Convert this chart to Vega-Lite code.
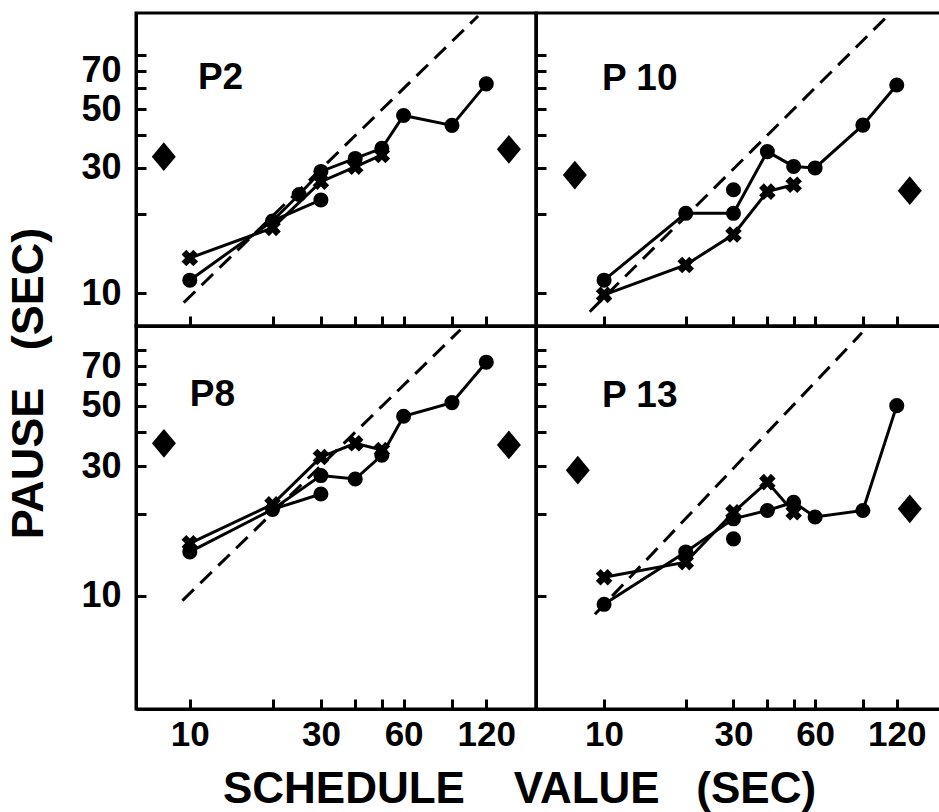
{
  "$schema": "https://vega.github.io/schema/vega-lite/v6.json",
  "background": "white",
  "padding": {"left": 4, "top": 8, "right": 0, "bottom": 0},
  "bounds": "flush",
  "spacing": 0,
  "columns": 2,
  "config": {
    "view": {"stroke": "black", "strokeWidth": 3},
    "axis": {
      "domainColor": "black", "domainWidth": 3,
      "tickColor": "black", "tickWidth": 3, "tickSize": -10,
      "grid": false,
      "labelFont": "Liberation Sans", "labelFontWeight": "bold", "labelColor": "black",
      "labelOverlap": false, "labelFlush": false, "labelBound": false,
      "titleFont": "Liberation Sans", "titleFontWeight": "bold", "titleColor": "black"
    }
  },
  "datasets": {
    "pts": [
      {"p":"P2","m":"circle","g":"c","x":10,"y":11.2},
      {"p":"P2","m":"circle","g":"c","x":20,"y":18.8},
      {"p":"P2","m":"circle","g":"c","x":25,"y":23.7},
      {"p":"P2","m":"circle","g":"c","x":30,"y":29.0},
      {"p":"P2","m":"circle","g":"c","x":40,"y":32.5},
      {"p":"P2","m":"circle","g":"c","x":50,"y":35.5},
      {"p":"P2","m":"circle","g":"c","x":60,"y":47.3},
      {"p":"P2","m":"circle","g":"c","x":90,"y":43.4},
      {"p":"P2","m":"circle","g":"c","x":120,"y":62.4},
      {"p":"P2","m":"none","g":"c2","x":20,"y":18.8},
      {"p":"P2","m":"circle","g":"c2","x":30,"y":22.6},
      {"p":"P2","m":"cross","g":"x","x":10,"y":13.6},
      {"p":"P2","m":"cross","g":"x","x":20,"y":17.7},
      {"p":"P2","m":"cross","g":"x","x":30,"y":26.5},
      {"p":"P2","m":"cross","g":"x","x":40,"y":30.2},
      {"p":"P2","m":"cross","g":"x","x":50,"y":33.5},
      {"p":"P2","m":"diamond","g":"","x":8.04,"y":33.0},
      {"p":"P2","m":"diamond","g":"","x":145,"y":35.2},

      {"p":"P10","m":"circle","g":"c","x":10,"y":11.2},
      {"p":"P10","m":"circle","g":"c","x":20,"y":20.1},
      {"p":"P10","m":"circle","g":"c","x":30,"y":20.1},
      {"p":"P10","m":"circle","g":"c","x":40,"y":34.5},
      {"p":"P10","m":"circle","g":"c","x":50,"y":30.3},
      {"p":"P10","m":"circle","g":"c","x":60,"y":29.9},
      {"p":"P10","m":"circle","g":"c","x":90,"y":43.5},
      {"p":"P10","m":"circle","g":"c","x":120,"y":61.8},
      {"p":"P10","m":"circle","g":"","x":30,"y":24.7},
      {"p":"P10","m":"cross","g":"x","x":10,"y":9.85},
      {"p":"P10","m":"cross","g":"x","x":20,"y":12.8},
      {"p":"P10","m":"cross","g":"x","x":30,"y":16.7},
      {"p":"P10","m":"cross","g":"x","x":40,"y":24.3},
      {"p":"P10","m":"cross","g":"x","x":50,"y":25.8},
      {"p":"P10","m":"diamond","g":"","x":7.8,"y":28.1},
      {"p":"P10","m":"diamond","g":"","x":134,"y":24.5},

      {"p":"P8","m":"circle","g":"c","x":10,"y":14.5},
      {"p":"P8","m":"circle","g":"c","x":20,"y":20.8},
      {"p":"P8","m":"circle","g":"c","x":30,"y":27.7},
      {"p":"P8","m":"circle","g":"c","x":40,"y":26.9},
      {"p":"P8","m":"circle","g":"c","x":50,"y":32.9},
      {"p":"P8","m":"circle","g":"c","x":60,"y":45.8},
      {"p":"P8","m":"circle","g":"c","x":90,"y":51.4},
      {"p":"P8","m":"circle","g":"c","x":120,"y":72.4},
      {"p":"P8","m":"none","g":"c2","x":20,"y":20.8},
      {"p":"P8","m":"circle","g":"c2","x":30,"y":23.7},
      {"p":"P8","m":"cross","g":"x","x":10,"y":15.6},
      {"p":"P8","m":"cross","g":"x","x":20,"y":21.7},
      {"p":"P8","m":"cross","g":"x","x":30,"y":32.4},
      {"p":"P8","m":"cross","g":"x","x":40,"y":36.4},
      {"p":"P8","m":"cross","g":"x","x":50,"y":34.4},
      {"p":"P8","m":"diamond","g":"","x":8.05,"y":36.4},
      {"p":"P8","m":"diamond","g":"","x":145,"y":35.9},

      {"p":"P13","m":"circle","g":"c","x":10,"y":9.3},
      {"p":"P13","m":"circle","g":"c","x":20,"y":14.5},
      {"p":"P13","m":"circle","g":"c","x":30,"y":19.2},
      {"p":"P13","m":"circle","g":"c","x":40,"y":20.6},
      {"p":"P13","m":"circle","g":"c","x":50,"y":22.1},
      {"p":"P13","m":"circle","g":"c","x":60,"y":19.5},
      {"p":"P13","m":"circle","g":"c","x":90,"y":20.6},
      {"p":"P13","m":"circle","g":"c","x":120,"y":50.1},
      {"p":"P13","m":"circle","g":"","x":30,"y":16.2},
      {"p":"P13","m":"cross","g":"x","x":10,"y":11.7},
      {"p":"P13","m":"cross","g":"x","x":20,"y":13.3},
      {"p":"P13","m":"cross","g":"x","x":30,"y":20.3},
      {"p":"P13","m":"cross","g":"x","x":40,"y":26.2},
      {"p":"P13","m":"cross","g":"x","x":50,"y":20.3},
      {"p":"P13","m":"diamond","g":"","x":8.0,"y":29.0},
      {"p":"P13","m":"diamond","g":"","x":134,"y":20.9}
    ],
    "diag": [
      {"p":"P2","x":9.5,"y":9.2},
      {"p":"P2","x":112,"y":113},
      {"p":"P10","x":8.85,"y":8.5},
      {"p":"P10","x":110,"y":112},
      {"p":"P8","x":9.4,"y":9.6},
      {"p":"P8","x":96.6,"y":95.3},
      {"p":"P13","x":9.25,"y":8.55},
      {"p":"P13","x":89.3,"y":92.9}
    ],
    "lab": [
      {"p":"P2","t":"P2","x":10.7,"y":65.6},
      {"p":"P10","t":"P 10","x":9.83,"y":65.2},
      {"p":"P8","t":"P8","x":10.0,"y":55.0},
      {"p":"P13","t":"P 13","x":9.83,"y":54.5}
    ]
  },
  "concat": [
    {
      "width": 400, "height": 313,
      "encoding": {
        "x": {"field":"x","type":"quantitative","scale":{"type":"log","domain":[6.37,182],"nice":false},
              "axis":{"values":[10,20,30,40,50,60,90,120],"labels":false,"title":null}},
        "y": {"field":"y","type":"quantitative","scale":{"type":"log","domain":[7.5,116],"nice":false},
              "axis":{"values":[10,20,30,40,50,60,70,80],"labelExpr":"indexof([10,30,50,70], datum.value) >= 0 ? '' + datum.value : ''","labelFontSize":36,"labelPadding":25,"title":null}}
      },
      "layer": [
        {"data":{"name":"diag"},"transform":[{"filter":"datum.p=='P2'"}],"mark":{"type":"line","color":"black","strokeWidth":3,"strokeDash":[16,9]}},
        {"data":{"name":"pts"},"transform":[{"filter":"datum.p=='P2' && datum.g!=''"}],"mark":{"type":"line","color":"black","strokeWidth":3},"encoding":{"detail":{"field":"g"}}},
        {"data":{"name":"pts"},"transform":[{"filter":"datum.p=='P2' && datum.m=='circle'"}],"mark":{"type":"point","shape":"circle","filled":true,"color":"black","opacity":1,"size":227}},
        {"data":{"name":"pts"},"transform":[{"filter":"datum.p=='P2' && datum.m=='cross'"}],"mark":{"type":"point","shape":"cross","angle":45,"filled":true,"color":"black","opacity":1,"size":280}},
        {"data":{"name":"pts"},"transform":[{"filter":"datum.p=='P2' && datum.m=='diamond'"}],"mark":{"type":"point","shape":"M0,-1.2L1,0L0,1.2L-1,0Z","filled":true,"color":"black","opacity":1,"size":576}},
        {"data":{"name":"lab"},"transform":[{"filter":"datum.p=='P2'"}],"mark":{"type":"text","align":"left","baseline":"middle","font":"Liberation Sans","fontWeight":"bold","fontSize":37,"color":"black"},"encoding":{"text":{"field":"t"}}}
      ]
    },
    {
      "width": 405, "height": 313,
      "encoding": {
        "x": {"field":"x","type":"quantitative","scale":{"type":"log","domain":[5.61,174.7],"nice":false},
              "axis":{"values":[10,20,30,40,50,60,90,120],"labels":false,"title":null}},
        "y": {"field":"y","type":"quantitative","scale":{"type":"log","domain":[7.5,116],"nice":false},
              "axis":{"values":[10,20,30,40,50,60,70,80],"labels":false,"title":null}}
      },
      "layer": [
        {"data":{"name":"diag"},"transform":[{"filter":"datum.p=='P10'"}],"mark":{"type":"line","color":"black","strokeWidth":3,"strokeDash":[16,9]}},
        {"data":{"name":"pts"},"transform":[{"filter":"datum.p=='P10' && datum.g!=''"}],"mark":{"type":"line","color":"black","strokeWidth":3},"encoding":{"detail":{"field":"g"}}},
        {"data":{"name":"pts"},"transform":[{"filter":"datum.p=='P10' && datum.m=='circle'"}],"mark":{"type":"point","shape":"circle","filled":true,"color":"black","opacity":1,"size":227}},
        {"data":{"name":"pts"},"transform":[{"filter":"datum.p=='P10' && datum.m=='cross'"}],"mark":{"type":"point","shape":"cross","angle":45,"filled":true,"color":"black","opacity":1,"size":280}},
        {"data":{"name":"pts"},"transform":[{"filter":"datum.p=='P10' && datum.m=='diamond'"}],"mark":{"type":"point","shape":"M0,-1.2L1,0L0,1.2L-1,0Z","filled":true,"color":"black","opacity":1,"size":576}},
        {"data":{"name":"lab"},"transform":[{"filter":"datum.p=='P10'"}],"mark":{"type":"text","align":"left","baseline":"middle","font":"Liberation Sans","fontWeight":"bold","fontSize":37,"color":"black"},"encoding":{"text":{"field":"t"}}}
      ]
    },
    {
      "width": 400, "height": 383,
      "encoding": {
        "x": {"field":"x","type":"quantitative","scale":{"type":"log","domain":[6.37,182],"nice":false},
              "axis":{"values":[10,20,30,40,50,60,90,120],"labelExpr":"indexof([10,30,60,120], datum.value) >= 0 ? '' + datum.value : ''","labelFontSize":35,"labelPadding":18,
                      "title":"SCHEDULE\u00a0\u00a0\u00a0\u00a0VALUE\u00a0\u00a0\u00a0(SEC)","titleFontSize":44,"titleX":383,"titleY":93,"titleAlign":"center","titleBaseline":"alphabetic"}},
        "y": {"field":"y","type":"quantitative","scale":{"type":"log","domain":[3.83,98.4],"nice":false},
              "axis":{"values":[10,20,30,40,50,60,70,80],"labelExpr":"indexof([10,30,50,70], datum.value) >= 0 ? '' + datum.value : ''","labelFontSize":36,"labelPadding":25,
                      "title":"PAUSE\u00a0\u00a0\u00a0(SEC)","titleFontSize":45,"titleX":-94,"titleY":57,"titleAngle":270,"titleAlign":"center","titleBaseline":"alphabetic"}}
      },
      "layer": [
        {"data":{"name":"diag"},"transform":[{"filter":"datum.p=='P8'"}],"mark":{"type":"line","color":"black","strokeWidth":3,"strokeDash":[16,9]}},
        {"data":{"name":"pts"},"transform":[{"filter":"datum.p=='P8' && datum.g!=''"}],"mark":{"type":"line","color":"black","strokeWidth":3},"encoding":{"detail":{"field":"g"}}},
        {"data":{"name":"pts"},"transform":[{"filter":"datum.p=='P8' && datum.m=='circle'"}],"mark":{"type":"point","shape":"circle","filled":true,"color":"black","opacity":1,"size":227}},
        {"data":{"name":"pts"},"transform":[{"filter":"datum.p=='P8' && datum.m=='cross'"}],"mark":{"type":"point","shape":"cross","angle":45,"filled":true,"color":"black","opacity":1,"size":280}},
        {"data":{"name":"pts"},"transform":[{"filter":"datum.p=='P8' && datum.m=='diamond'"}],"mark":{"type":"point","shape":"M0,-1.2L1,0L0,1.2L-1,0Z","filled":true,"color":"black","opacity":1,"size":576}},
        {"data":{"name":"lab"},"transform":[{"filter":"datum.p=='P8'"}],"mark":{"type":"text","align":"left","baseline":"middle","font":"Liberation Sans","fontWeight":"bold","fontSize":37,"color":"black"},"encoding":{"text":{"field":"t"}}}
      ]
    },
    {
      "width": 405, "height": 383,
      "encoding": {
        "x": {"field":"x","type":"quantitative","scale":{"type":"log","domain":[5.61,174.7],"nice":false},
              "axis":{"values":[10,20,30,40,50,60,90,120],"labelExpr":"indexof([10,30,60,120], datum.value) >= 0 ? '' + datum.value : ''","labelFontSize":35,"labelPadding":18,"title":null}},
        "y": {"field":"y","type":"quantitative","scale":{"type":"log","domain":[3.83,98.4],"nice":false},
              "axis":{"values":[10,20,30,40,50,60,70,80],"labels":false,"title":null}}
      },
      "layer": [
        {"data":{"name":"diag"},"transform":[{"filter":"datum.p=='P13'"}],"mark":{"type":"line","color":"black","strokeWidth":3,"strokeDash":[16,9]}},
        {"data":{"name":"pts"},"transform":[{"filter":"datum.p=='P13' && datum.g!=''"}],"mark":{"type":"line","color":"black","strokeWidth":3},"encoding":{"detail":{"field":"g"}}},
        {"data":{"name":"pts"},"transform":[{"filter":"datum.p=='P13' && datum.m=='circle'"}],"mark":{"type":"point","shape":"circle","filled":true,"color":"black","opacity":1,"size":227}},
        {"data":{"name":"pts"},"transform":[{"filter":"datum.p=='P13' && datum.m=='cross'"}],"mark":{"type":"point","shape":"cross","angle":45,"filled":true,"color":"black","opacity":1,"size":280}},
        {"data":{"name":"pts"},"transform":[{"filter":"datum.p=='P13' && datum.m=='diamond'"}],"mark":{"type":"point","shape":"M0,-1.2L1,0L0,1.2L-1,0Z","filled":true,"color":"black","opacity":1,"size":576}},
        {"data":{"name":"lab"},"transform":[{"filter":"datum.p=='P13'"}],"mark":{"type":"text","align":"left","baseline":"middle","font":"Liberation Sans","fontWeight":"bold","fontSize":37,"color":"black"},"encoding":{"text":{"field":"t"}}}
      ]
    }
  ]
}
